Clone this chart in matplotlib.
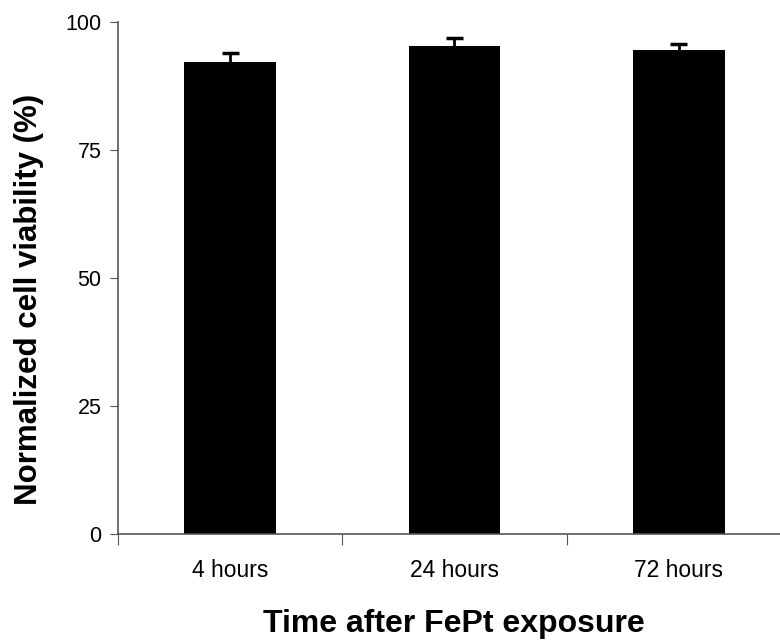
import matplotlib
matplotlib.use("Agg")
import matplotlib.pyplot as plt
import numpy as np

categories = ["4 hours", "24 hours", "72 hours"]
viability = [92.2, 95.3, 94.5]
errors = [1.7, 1.6, 1.2]
yticks = [0, 25, 50, 75, 100]

plt.rcParams['font.family'] = ['Liberation Sans', 'DejaVu Sans']

fig = plt.figure(figsize=(7.8, 6.44), dpi=100)
ax = fig.add_axes([118/780, 1-534/644, (791-118)/780, (534-22)/644])

x = np.arange(len(categories))
vals = np.array(viability)
errs = np.array(errors)
ax.bar(x, vals, width=0.41, color='black', zorder=2)
# upper-only error bars
cap_half = 0.038
ax.vlines(x, vals, vals + errs, color='black', linewidth=2, zorder=3)
ax.hlines(vals + errs, x - cap_half, x + cap_half, color='black', linewidth=2.5, zorder=3)

ax.set_xlim(-0.5, 2.5)
ax.set_ylim(0, 100)
ax.set_yticks(yticks)
ax.set_yticklabels([str(v) for v in yticks], fontsize=15.5)
ax.set_xticks([-0.5, 0.5, 1.5, 2.5])
ax.set_xticklabels([])
ax.set_xticks(x, minor=True)
ax.set_xticklabels(categories, minor=True, fontsize=16.5)
ax.tick_params(axis='x', which='minor', length=0, pad=18)
ax.tick_params(axis='x', which='major', length=8, color='#555555', direction='out')
ax.tick_params(axis='y', length=6, color='#555555', pad=6)

for s in ['top', 'right']:
    ax.spines[s].set_visible(False)
for s in ['left', 'bottom']:
    ax.spines[s].set_color('#555555')
    ax.spines[s].set_linewidth(1.2)

fig.text(37/780, 1-299/644, "Normalized cell viability (%)", rotation=90,
         rotation_mode='anchor', ha='center', va='baseline',
         fontsize=22.5, fontweight='bold')
fig.text(454/780, 1-632/644, "Time after FePt exposure", ha='center', va='baseline',
         fontsize=23, fontweight='bold')

fig.savefig("out.png", dpi=100)
